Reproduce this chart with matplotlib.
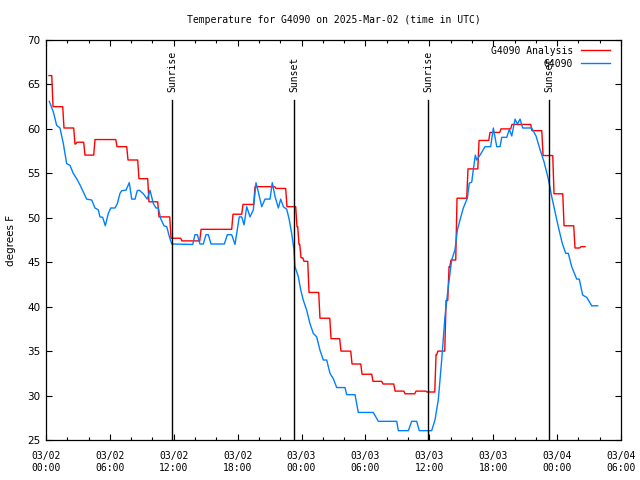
import datetime as dt
import matplotlib
matplotlib.use("Agg")
import matplotlib.pyplot as plt
import matplotlib.dates as mdates
from matplotlib.ticker import MultipleLocator

# hours since 2025-03-02 00:00 UTC
analysis_hours = [0.28, 0.66, 1.69, 2.72, 2.91, 3.66, 4.60, 6.67, 7.70, 8.73, 9.67, 10.61,
                  11.74, 12.77, 14.56, 17.56, 18.50, 19.63, 21.60, 22.63, 23.57, 23.76,
                  23.95, 24.23, 24.70, 25.73, 26.77, 27.70, 28.74, 29.68, 30.71, 31.65,
                  32.78, 33.72, 34.75, 35.78, 36.63, 36.81, 37.57, 37.85, 38.04, 38.60,
                  39.63, 40.67, 41.70, 42.73, 43.76, 45.64, 46.68, 47.71, 48.65, 49.68,
                  50.24, 50.62]
analysis_temp = [66.0, 62.5, 60.1, 58.3, 58.5, 57.05, 58.8, 58.0, 56.5, 54.4, 51.8, 50.1,
                 47.7, 47.4, 48.7, 50.4, 51.5, 53.5, 53.3, 51.25, 49.0, 47.0,
                 45.5, 45.1, 41.6, 38.7, 36.4, 35.0, 33.55, 32.4, 31.6, 31.3,
                 30.5, 30.2, 30.5, 30.4, 34.6, 35.0, 40.7, 44.5, 45.25, 52.2,
                 55.5, 58.7, 59.6, 60.0, 60.5, 59.8, 57.0, 52.7, 49.1, 46.6,
                 46.75, 46.75]

obs_hours = [0.31, 0.69, 1.00, 1.31, 1.62, 1.94, 2.25, 2.56, 2.88, 3.19, 3.50, 3.82,
             4.29, 4.60, 4.91, 5.07, 5.32, 5.57, 5.85, 6.08, 6.48, 6.70, 6.95, 7.11,
             7.51, 7.82, 8.05, 8.36, 8.57, 8.76, 9.14, 9.51, 9.77, 10.08, 10.33, 10.55,
             10.77, 11.08, 11.34, 11.58, 11.81, 13.78, 13.99, 14.21, 14.46, 14.77, 15.03,
             15.24, 15.50, 16.75, 17.03, 17.44, 17.75, 18.15, 18.38, 18.60, 18.85, 19.16,
             19.47, 19.72, 19.94, 20.26, 20.57, 21.04, 21.25, 21.51, 21.82, 22.04, 22.29,
             22.61, 22.85, 23.07, 23.29, 23.38, 23.69, 23.92, 24.16, 24.48, 24.79, 25.10,
             25.42, 25.73, 26.04, 26.36, 26.67, 26.98, 27.30, 28.08, 28.24, 29.02, 29.33,
             30.74, 31.21, 32.94, 33.09, 34.03, 34.34, 34.81, 35.06, 36.22, 36.53, 36.84,
             37.16, 37.47, 37.78, 38.10, 38.41, 38.63, 38.88, 39.19, 39.57, 39.75, 39.98,
             40.13, 40.32, 40.45, 40.76, 41.23, 41.76, 42.01, 42.33, 42.64, 42.80, 43.27,
             43.51, 43.74, 44.05, 44.27, 44.52, 44.77, 45.61, 46.02, 46.39, 46.77, 47.17,
             47.49, 47.80, 48.11, 48.49, 48.81, 49.05, 49.37, 49.84, 50.08, 50.40, 50.78,
             51.25, 51.81]
obs_temp = [63.1, 61.9, 60.4, 60.1, 58.4, 56.1, 55.9, 55.0, 54.4, 53.7, 52.9, 52.1,
            52.0, 51.1, 50.9, 50.1, 50.05, 49.1, 50.5, 51.1, 51.1, 51.6, 52.75, 53.05,
            53.1, 53.95, 52.1, 52.1, 53.05, 53.1, 52.7, 52.1, 53.1, 51.6, 51.1, 51.1,
            49.9, 49.1, 49.0, 47.9, 47.05, 47.0, 48.1, 48.1, 47.05, 47.05, 48.1,
            48.1, 47.05, 47.05, 48.1, 48.1, 47.0, 50.1, 50.1, 49.2, 51.25, 50.1,
            50.9, 53.95, 52.9, 51.25, 52.1, 52.1, 53.95, 52.4, 51.1, 52.1, 51.25,
            50.95, 49.75, 48.25, 46.4, 44.5, 43.4, 41.9, 40.75, 39.6, 38.1, 37.0,
            36.6, 35.1, 34.0, 34.0, 32.5, 31.9, 30.9, 30.9, 30.1, 30.1, 28.1,
            28.1, 27.1, 27.1, 26.05, 26.05, 27.1, 27.1, 26.05, 26.05, 27.25, 29.5,
            34.0, 38.9, 42.25, 45.25, 46.4, 48.6, 49.75, 51.1, 52.2, 53.9, 54.0,
            55.4, 57.05, 56.5, 57.05, 58.0, 58.0, 60.1, 58.0, 58.0, 59.05, 59.05,
            59.95, 59.2, 61.1, 60.55, 61.1, 60.1, 60.1, 59.2, 57.7, 56.3, 54.4,
            52.4, 50.7, 49.0, 47.1, 46.0, 46.0, 44.5, 43.1, 43.1, 41.3, 41.05,
            40.1, 40.1]

sun_hours = [11.86, 23.32, 35.90, 47.27]
sun_labels = ["Sunrise", "Sunset", "Sunrise", "Sunset"]

base = dt.datetime(2025, 3, 2, 0, 0)
to_time = lambda hs: [base + dt.timedelta(hours=h) for h in hs]

# analysis values hold until shortly before the next one, then ramp (as in the source plot)
ramp = 0.12
ana_h, ana_v = [analysis_hours[0]], [analysis_temp[0]]
for i in range(1, len(analysis_hours)):
    ana_h += [max(analysis_hours[i] - ramp, ana_h[-1]), analysis_hours[i]]
    ana_v += [analysis_temp[i - 1], analysis_temp[i]]

mono = "DejaVu Sans Mono"
fig = plt.figure(figsize=(6.4, 4.8), dpi=100)
ax = fig.add_axes([46 / 640, 40 / 480, 575 / 640, 400 / 480])

ax.plot(to_time(ana_h), ana_v, color="#ff0000", lw=1.0, label="G4090 Analysis")
ax.plot(to_time(obs_hours), obs_temp, color="#0080ff", lw=1.0, label="G4090")

for t, lab in zip(to_time(sun_hours), sun_labels):
    ax.plot([t, t], [25, 63.3], color="black", lw=1.0)
    ax.text(t, 64.1, lab, rotation=90, ha="center", va="bottom",
            fontsize=7, family=mono)

ax.set_xlim(base, base + dt.timedelta(hours=54))
ax.set_ylim(25, 70)
ax.xaxis.set_major_locator(mdates.HourLocator(byhour=range(0, 24, 6)))
ax.xaxis.set_minor_locator(mdates.HourLocator(byhour=range(0, 24, 2)))
ax.xaxis.set_major_formatter(mdates.DateFormatter("%m/%d\n%H:%M"))
ax.yaxis.set_major_locator(MultipleLocator(5))

ax.tick_params(which="both", direction="in", top=True, right=True, width=0.8)
ax.tick_params(which="major", length=4.5)
ax.tick_params(which="minor", length=2.2)
ax.tick_params(axis="x", labelsize=7, pad=8)
ax.tick_params(axis="y", labelsize=7.5, pad=4)
for lab in ax.get_xticklabels():
    lab.set_family(mono)
for sp in ax.spines.values():
    sp.set_linewidth(0.9)

ax.set_ylabel("degrees F", fontsize=7.5, labelpad=8)
ax.set_title("Temperature for G4090 on 2025-Mar-02 (time in UTC)",
             fontsize=7, family=mono, pad=12)

leg = ax.legend(loc="upper right", bbox_to_anchor=(0.991, 1.0), markerfirst=False,
                frameon=False, prop={"family": mono, "size": 7}, handlelength=3.0,
                handletextpad=0.8, labelspacing=0.3, borderaxespad=0.2)
for txt in leg.get_texts():
    txt.set_ha("right")

fig.savefig("out.png", dpi=100)
